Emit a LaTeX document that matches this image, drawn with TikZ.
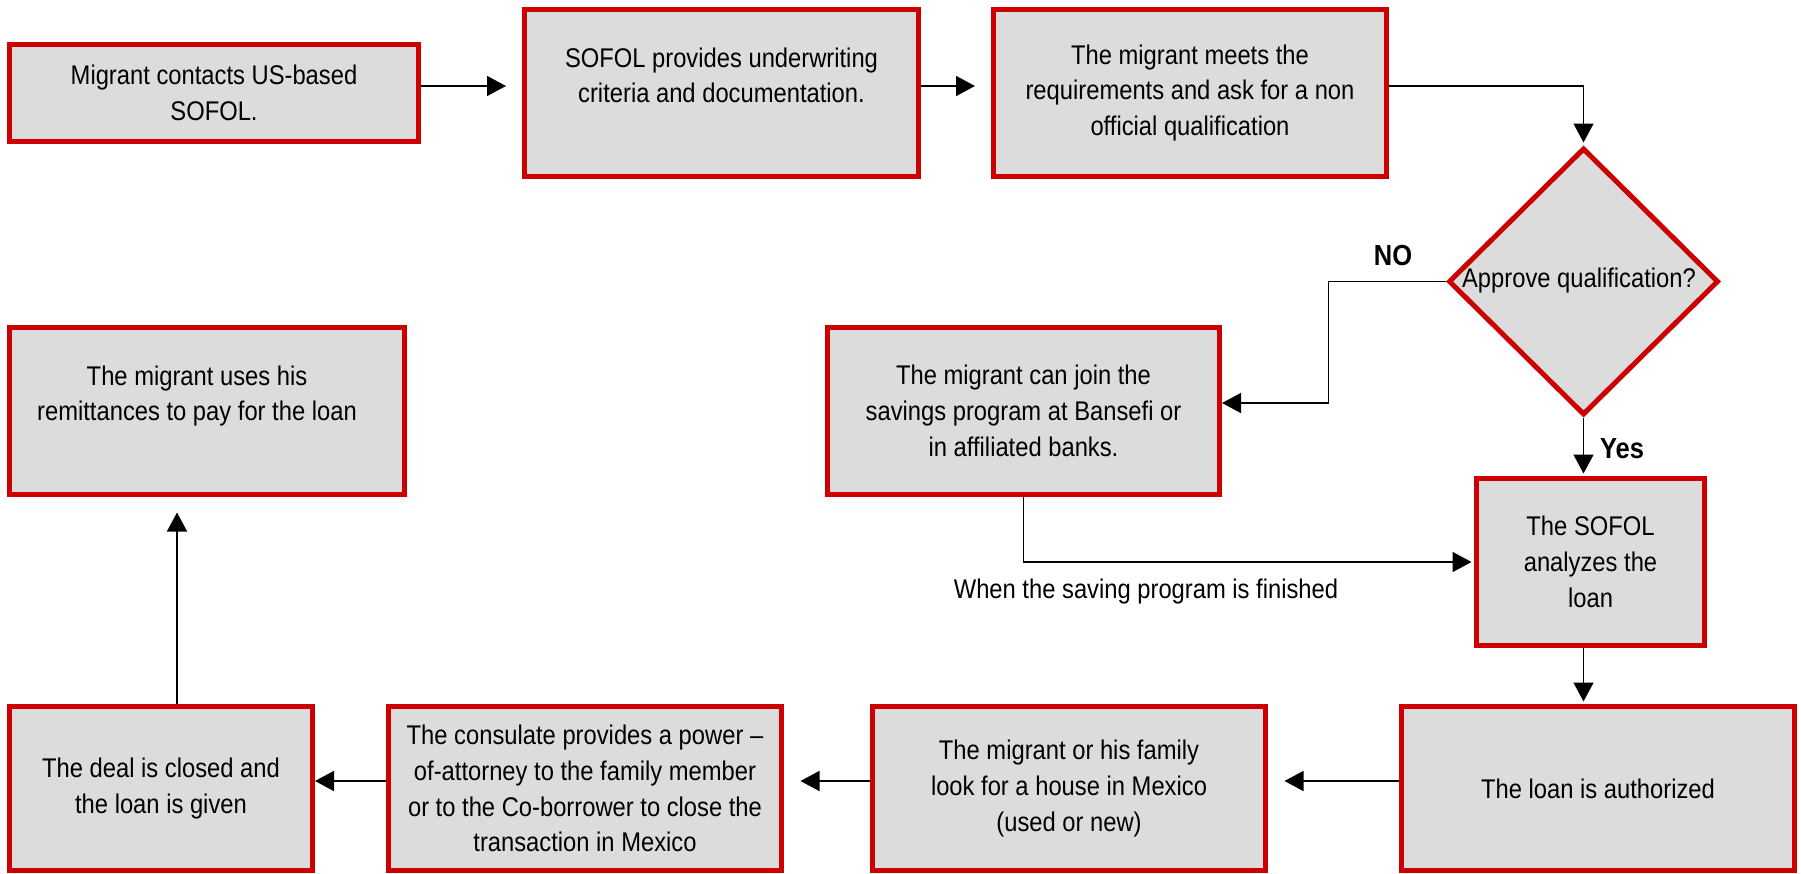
\documentclass[tikz,border=0pt]{standalone}
\usepackage{fontspec}
\setmainfont{Liberation Sans}[FakeStretch=0.88]
\usetikzlibrary{arrows.meta,shapes.geometric}
\definecolor{boxred}{HTML}{CC0000}
\definecolor{boxfill}{HTML}{DCDCDC}
\begin{document}
\begin{tikzpicture}[x=1pt,y=-1pt,
  stepbox/.style={draw=boxred, fill=boxfill, line width=5pt, inner sep=0pt, align=center, font=\fontsize{27}{35.7}\selectfont},
  arr/.style={line width=1.5pt, -{Triangle[width=20pt,length=19pt]}},
  lbl/.style={font=\fontsize{27}{35.7}\selectfont, inner sep=0pt},
  blbl/.style={font=\fontsize{29}{35}\selectfont\bfseries, inner sep=0pt}]
\useasboundingbox (0,0) rectangle (1801,873);

% boxes
\node[stepbox, minimum width=409pt, minimum height=97pt] (b1) at (214,93) {Migrant contacts US-based\\SOFOL.};
\node[stepbox, minimum width=394pt, minimum height=167pt] (b2) at (721.5,93) {SOFOL provides underwriting\\criteria and documentation.\\\mbox{}};
\node[stepbox, minimum width=393pt, minimum height=167pt] (b3) at (1190,93) {The migrant meets the\\requirements and ask for a non\\official qualification};
\node[diamond, draw=boxred, fill=boxfill, line width=5pt, minimum width=270pt, minimum height=267pt, inner sep=0pt] (dia) at (1583.5,281.5) {};
\node[lbl, anchor=base] (dtext) at (1579,287) {Approve qualification?};
\node[stepbox, minimum width=392pt, minimum height=167pt] (sav) at (1023.5,411) {The migrant can join the\\savings program at Bansefi or\\in affiliated banks.};
\node[stepbox, minimum width=395pt, minimum height=167pt] (rem) at (207,411) {\hspace*{-20pt}The migrant uses his\\\hspace*{-20pt}remittances to pay for the loan\\\mbox{}};
\node[stepbox, minimum width=228pt, minimum height=167pt] (ana) at (1590.5,562) {The SOFOL\\analyzes the\\loan};
\node[stepbox, minimum width=393pt, minimum height=164pt] (auth) at (1598,788.5) {The loan is authorized};
\node[stepbox, minimum width=393pt, minimum height=164pt] (house) at (1069,788.5) {The migrant or his family\\look for a house in Mexico\\(used or new)};
\node[stepbox, minimum width=393pt, minimum height=164pt] (cons) at (585,788.5) {The consulate provides a power –\\of-attorney to the family member\\or to the Co-borrower to close the\\transaction in Mexico};
\node[stepbox, minimum width=303pt, minimum height=164pt] (deal) at (161,788.5) {The deal is closed and\\the loan is given};

% labels
\node[blbl, anchor=base] (no) at (1393,265) {NO};
\node[blbl, anchor=base] (yes) at (1622,458) {Yes};
\node[lbl, anchor=base] (when) at (1146,598) {When the saving program is finished};

% connectors
\draw[arr, shorten >=16pt] ([yshift=7pt]b1.east) -- ([yshift=7pt]b1.east -| b2.west);
\draw[arr, shorten >=16pt] ([yshift=7pt]b2.east) -- ([yshift=7pt]b2.east -| b3.west);
\draw[arr, shorten >=3pt] ([yshift=7pt]b3.east) -| (dia.north);
\draw[arr] (dia.west) -- ++(-117.5,0) |- ([yshift=8pt]sav.east);
\draw[arr, shorten >=2.5pt] (dia.south) -- (dia.south |- ana.north);
\draw[arr, shorten >=2.5pt] (sav.south) |- (ana.west);
\draw[arr, shorten >=2.5pt] (dia.south |- ana.south) -- (dia.south |- auth.north);
\draw[arr, shorten >=16.5pt] ([yshift=7.5pt]auth.west) -- ([yshift=7.5pt]auth.west -| house.east);
\draw[arr, shorten >=16.5pt] ([yshift=7.5pt]house.west) -- ([yshift=7.5pt]house.west -| cons.east);
\draw[arr] ([yshift=7.5pt]cons.west) -- ([yshift=7.5pt]cons.west -| deal.east);
\draw[arr, shorten >=15.5pt] ([xshift=16pt]deal.north) -- ([xshift=16pt]deal.north |- rem.south);
\end{tikzpicture}
\end{document}
